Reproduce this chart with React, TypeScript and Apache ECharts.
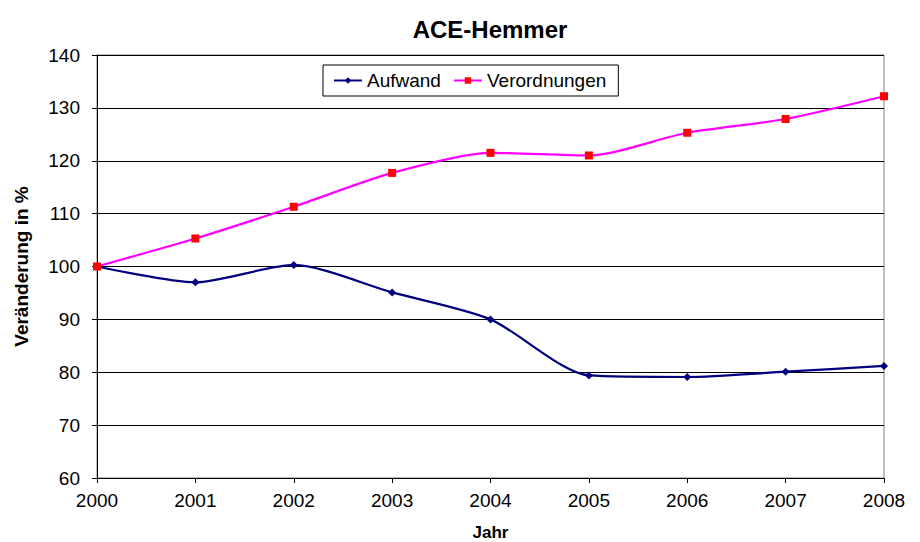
import React, { useEffect, useRef } from "react";
import * as echarts from "echarts";

const years = ["2000", "2001", "2002", "2003", "2004", "2005", "2006", "2007", "2008"];
const aufwand = [100, 97.0, 100.3, 95.1, 90.0, 79.4, 79.1, 80.1, 81.2];
const verordnungen = [100, 105.3, 111.3, 117.7, 121.5, 121.0, 125.3, 127.9, 132.2];

const FONT = "'Liberation Sans', Arial, sans-serif";

export default function App() {
  const ref = useRef<HTMLDivElement>(null);
  useEffect(() => {
    if (!ref.current) return;
    const chart = echarts.init(ref.current, undefined, { renderer: "svg" });
    chart.setOption({
      animation: false,
      backgroundColor: "#fff",
      textStyle: { fontFamily: FONT },
      title: {
        text: "ACE-Hemmer",
        left: 485,
        textAlign: "center",
        top: 12,
        textStyle: { fontSize: 24, fontWeight: "bold", color: "#000", fontFamily: FONT },
      },
      legend: {
        left: 323,
        top: 65,
        padding: [6, 12, 6, 10],
        borderColor: "#000",
        borderWidth: 1,
        itemGap: 12,
        itemWidth: 28,
        itemHeight: 8,
        textStyle: { fontSize: 19, color: "#000", fontFamily: FONT },
        data: ["Aufwand", "Verordnungen"],
      },
      grid: {
        left: 97,
        right: 36,
        top: 55,
        bottom: 64,
        show: true,
        borderColor: "#808080",
        borderWidth: 1,
        containLabel: false,
        outerBoundsMode: "none",
      },
      xAxis: {
        type: "category",
        data: years,
        boundaryGap: false,
        name: "Jahr",
        nameLocation: "middle",
        nameGap: 46,
        nameTextStyle: { fontSize: 17, fontWeight: "bold", color: "#000", fontFamily: FONT },
        axisLine: { lineStyle: { color: "#000", width: 1 } },
        axisTick: { show: true, length: 5, lineStyle: { color: "#000" } },
        axisLabel: { fontSize: 19, color: "#000", margin: 13, fontFamily: FONT },
        splitLine: { show: false },
      },
      yAxis: {
        type: "value",
        min: 60,
        max: 140,
        interval: 10,
        name: "Veränderung in %",
        nameLocation: "middle",
        nameGap: 66,
        nameTextStyle: { fontSize: 19, fontWeight: "bold", color: "#000", fontFamily: FONT },
        axisLine: { show: true, lineStyle: { color: "#000", width: 1 } },
        axisTick: { show: true, length: 5, lineStyle: { color: "#000" } },
        axisLabel: { fontSize: 19, color: "#000", margin: 17, fontFamily: FONT },
        splitLine: { show: true, lineStyle: { color: "#000", width: 1 } },
      },
      series: [
        {
          name: "Aufwand",
          type: "line",
          data: aufwand,
          smooth: 0.25,
          symbol: "diamond",
          symbolSize: 8,
          itemStyle: { color: "#000080" },
          lineStyle: { color: "#000080", width: 2.2 },
        },
        {
          name: "Verordnungen",
          type: "line",
          data: verordnungen,
          smooth: 0.25,
          symbol: "rect",
          symbolSize: 8,
          itemStyle: { color: "#FF0000" },
          lineStyle: { color: "#FF00FF", width: 2.2 },
        },
      ],
    });
    return () => chart.dispose();
  }, []);
  return <div ref={ref} style={{ width: 920, height: 542, position: "absolute", left: 0, top: 0 }} />;
}
